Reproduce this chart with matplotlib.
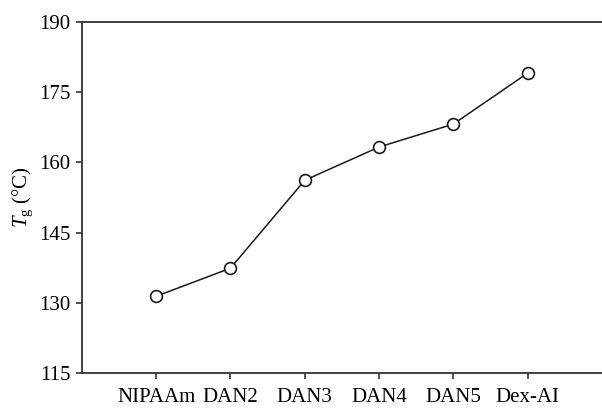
import matplotlib.pyplot as plt
import numpy as np

samples = ['NIPAAm', 'DAN2', 'DAN3', 'DAN4', 'DAN5', 'Dex-AI']
tg = [131.4, 137.4, 156.2, 163.3, 168.2, 179.1]
yticks = [115, 130, 145, 160, 175, 190]

plt.rcParams['font.family'] = ['Liberation Serif', 'DejaVu Serif']
plt.rcParams['mathtext.fontset'] = 'custom'
plt.rcParams['mathtext.it'] = 'Liberation Serif:italic'
plt.rcParams['mathtext.rm'] = 'Liberation Serif'

fig = plt.figure(figsize=(6.02, 4.09), dpi=100)
ax = fig.add_axes([0.136, 0.088, 0.864, 0.858])

x = np.arange(len(samples))
ax.plot(x, tg, color='#1a1a1a', lw=1.1, marker='o', ms=8.5,
        mfc='white', mec='#1a1a1a', mew=1.2, clip_on=False)

ax.set_xlim(-1, 6)
ax.set_ylim(115, 190)
ax.set_xticks(x)
ax.set_xticklabels(samples)
ax.set_yticks(yticks)
ax.set_ylabel('$T_{\\mathrm{g}}$ (°C)', fontsize=15, labelpad=3.5)

ax.spines['right'].set_visible(False)
for s in ['left', 'bottom', 'top']:
    ax.spines[s].set_linewidth(1.3)
    ax.spines[s].set_color('#333333')
ax.tick_params(direction='out', length=4.5, width=1.2, labelsize=15, color='#333333')
ax.tick_params(axis='x', pad=6.5)

plt.savefig('out.png', dpi=100)
